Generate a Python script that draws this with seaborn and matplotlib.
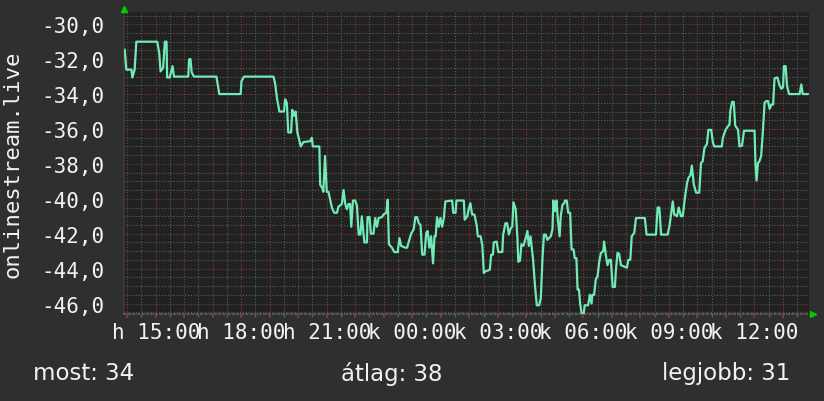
import matplotlib
matplotlib.use("Agg")
import matplotlib.pyplot as plt
import seaborn as sns
from matplotlib.ticker import MultipleLocator, FuncFormatter

# hours after 15:00 on the first day, and the measured value
hours = [
    -1.09, -1.03, -0.85, -0.82, -0.74, -0.68, 0.05, 0.12, 0.17, 0.26,
    0.32, 0.38, 0.40, 0.49, 0.59, 0.64, 1.14, 1.17, 1.22, 1.26,
    1.34, 2.13, 2.17, 2.23, 2.98, 3.01, 3.10, 4.13, 4.19, 4.25,
    4.34,
    4.50, 4.54, 4.60, 4.65, 4.75, 4.79, 4.85, 4.91, 4.97, 5.03,
    5.09, 5.18, 5.42, 5.48, 5.51, 5.74, 5.77, 5.85, 5.88, 5.94,
    6.00, 6.06, 6.12, 6.18, 6.26, 6.36, 6.41, 6.53, 6.59, 6.65,
    6.71, 6.76, 6.82, 6.86, 6.92, 7.00, 7.06, 7.12, 7.18, 7.23,
    7.32, 7.41, 7.43, 7.50, 7.55, 7.64, 7.70, 7.76, 7.82, 7.94,
    7.99, 8.09, 8.14, 8.18, 8.29, 8.37, 8.49, 8.55, 8.61, 8.76,
    8.82, 8.87, 8.96, 9.05, 9.11, 9.17, 9.23, 9.29, 9.35, 9.43,
    9.49, 9.54, 9.60, 9.66, 9.73, 9.78, 9.82, 9.87, 9.93, 9.99,
    10.05, 10.11, 10.16, 10.40, 10.44, 10.52, 10.55, 10.81, 10.84, 10.93,
    10.98, 11.04, 11.10, 11.18, 11.26, 11.30, 11.40, 11.46, 11.51, 11.57,
    11.72, 11.77, 11.83, 11.86, 11.96, 12.02, 12.16, 12.19, 12.27, 12.33,
    12.39, 12.45, 12.51, 12.55, 12.63, 12.69, 12.72, 12.78, 12.83, 12.90,
    12.98, 13.04, 13.09, 13.15,
    13.24, 13.31, 13.37, 13.45, 13.51, 13.57, 13.62, 13.68, 13.74, 13.80,
    13.86, 13.92, 13.95, 14.01, 14.06, 14.11, 14.17, 14.21, 14.27, 14.33,
    14.36, 14.42, 14.47, 14.54, 14.59, 14.66, 14.70, 14.76, 14.80, 14.85,
    14.89, 14.95, 15.01, 15.05, 15.17, 15.23, 15.29, 15.32, 15.38, 15.44,
    15.50, 15.56, 15.62, 15.70, 15.73, 15.79, 15.85, 15.91, 15.97, 16.03,
    16.11, 16.14, 16.20, 16.26, 16.32, 16.53, 16.58, 16.65, 16.70, 16.79,
    16.85, 17.16, 17.22,
    17.55, 17.61, 17.67, 17.73, 17.96, 18.02, 18.08, 18.14, 18.19, 18.29,
    18.35, 18.43, 18.49, 18.55, 18.64, 18.69, 18.76, 18.81, 18.88, 18.96,
    19.07, 19.13, 19.19, 19.25, 19.34, 19.39, 19.49, 19.55, 19.60, 19.86,
    19.90, 19.98, 20.05, 20.13, 20.16, 20.22, 20.28, 20.33, 20.43, 20.48,
    20.57, 20.64, 21.01, 21.04, 21.08, 21.13, 21.18, 21.24, 21.30, 21.36,
    21.42, 21.48, 21.54, 21.60, 21.66, 21.71, 21.81, 21.89, 21.95, 22.01,
    22.04, 22.10, 22.15, 22.22, 22.59, 22.65, 22.70, 22.89,
]

values = [
    -31.45, -32.6, -32.6, -33.05, -32.6, -31.0, -31.0, -31.6, -32.7, -32.5,
    -31.0, -31.0, -33.05, -33.05, -32.4, -33.0, -33.0, -32.0, -32.0, -32.75,
    -33.0, -33.0, -33.4, -34.0, -34.0, -33.25, -33.0, -33.0, -33.4, -34.2,
    -35.0,
    -35.0, -34.3, -34.5, -36.2, -36.2, -34.9, -35.25, -35.0, -36.2, -36.6,
    -37.0, -36.75, -36.7, -36.5, -37.0, -37.0, -39.2, -39.4, -39.6, -37.55,
    -39.6, -39.6, -40.05, -40.5, -40.8, -40.8, -40.45, -40.3, -39.5, -40.3,
    -40.6, -40.3, -40.3, -41.6, -40.1, -40.1, -40.4, -42.05, -42.05, -41.0,
    -42.5, -42.5, -41.05, -41.05, -42.0, -42.0, -41.1, -41.6, -41.1, -41.05,
    -40.9, -40.8, -40.05, -42.6, -42.8, -43.05, -43.05, -42.25, -42.7, -42.8,
    -42.8, -42.5, -42.0, -41.75, -41.05, -41.05, -41.4, -41.5, -43.2, -43.2,
    -41.95, -41.85, -42.8, -42.15, -43.7, -42.15, -42.15, -41.05, -41.6, -41.1,
    -41.6, -41.1, -40.15, -40.1, -40.8, -40.8, -40.1, -40.1, -41.2, -41.0,
    -40.6, -40.25, -40.9, -40.9, -41.5, -42.15, -42.15, -42.7, -44.25, -44.15,
    -44.07, -43.2, -43.2, -42.5, -42.45, -43.05, -43.05, -42.05, -41.4, -41.4,
    -42.05, -41.7, -41.6, -40.2, -40.6, -42.25, -43.6, -43.55, -42.6, -42.7,
    -42.25, -41.85, -42.7, -42.15,
    -43.5, -45.05, -46.1, -46.1, -45.7, -43.4, -42.05, -42.05, -42.35, -42.25,
    -42.15, -41.75, -40.1, -40.7, -40.1, -41.2, -42.15, -41.0, -40.35, -40.25,
    -40.1, -40.1, -40.8, -40.8, -42.9, -42.9, -43.4, -43.4, -45.2, -45.2,
    -46.0, -46.65, -46.65, -46.1, -46.1, -45.5, -46.0, -45.5, -45.5, -44.6,
    -44.45, -43.6, -43.1, -43.0, -42.45, -43.2, -43.8, -43.5, -43.5, -45.05,
    -45.05, -44.2, -43.1, -43.15, -43.8, -43.95, -43.5, -43.5, -42.15, -41.95,
    -41.1, -41.1, -42.05,
    -42.05, -40.5, -40.5, -42.05, -42.05, -41.6, -40.9, -40.15, -40.9, -41.0,
    -40.5, -41.0, -41.0, -40.15, -39.1, -38.8, -38.65, -38.1, -39.2, -39.65,
    -39.65, -37.95, -37.85, -37.1, -36.85, -36.05, -36.05, -36.8, -37.0, -37.0,
    -36.5, -36.1, -35.9, -35.75, -34.95, -34.45, -34.45, -35.8, -36.05, -37.0,
    -36.95, -36.1, -36.1, -37.95, -38.95, -37.95, -37.85, -37.55, -36.2, -34.5,
    -34.4, -34.4, -34.85, -34.6, -34.6, -33.1, -33.05, -33.5, -33.7, -33.6,
    -32.4, -32.4, -33.55, -34.0, -34.0, -33.45, -34.0, -34.0,
]

tick_hours = [0, 3, 6, 9, 12, 15, 18, 21]
tick_labels = ["h 15:00", "h 18:00", "h 21:00", "k 00:00",
               "k 03:00", "k 06:00", "k 09:00", "k 12:00"]

series_name = "onlinestream.live"
stat_names = ["most", "átlag", "legjobb"]
stat_values = [34, 38, 31]

BG = "#2f2f2f"
PLOT_BG = "#212121"
LINE = "#72eab5"
MAJOR = "#803c3c"
MINOR = "#5e5e5e"
TEXT = "#f2f2f2"
MONO = "DejaVu Sans Mono"

sns.set_theme(style="dark")

fig = plt.figure(figsize=(8.24, 4.02), dpi=100, facecolor=BG)
ax = fig.add_axes([0.1499, 0.2164, 0.8319, 0.7512])
ax.set_facecolor(PLOT_BG)

sns.lineplot(x=hours, y=values, ax=ax, color=LINE, linewidth=1.6,
             sort=False, estimator=None, zorder=3)

ax.set_xlim(-1.13, 22.92)
ax.set_ylim(-46.6, -29.3)

# grid: hour / half hour, 2 units / half unit
ax.xaxis.set_major_locator(MultipleLocator(1))
ax.xaxis.set_minor_locator(MultipleLocator(0.5))
ax.yaxis.set_major_locator(MultipleLocator(2))
ax.yaxis.set_minor_locator(MultipleLocator(0.5))

label_map = dict(zip(tick_hours, tick_labels))
ax.xaxis.set_major_formatter(
    FuncFormatter(lambda v, p: label_map.get(int(round(v)), "")))
ax.yaxis.set_major_formatter(
    FuncFormatter(lambda v, p: f"{v:.1f}".replace(".", ",")))

ax.grid(which="major", color=MAJOR, linestyle=(0, (1, 1.6)), linewidth=0.8)
ax.grid(which="minor", color=MINOR, linestyle=(0, (1, 1.6)), linewidth=0.8)

ax.tick_params(axis="x", which="major", colors=MAJOR, length=3,
               labelcolor=TEXT, labelsize=15, pad=3, bottom=True)
ax.tick_params(axis="x", which="minor", colors=MINOR, length=2, bottom=True)
ax.tick_params(axis="y", which="both", length=0, labelcolor=TEXT,
               labelsize=15, pad=14)
for lab in ax.get_xticklabels() + ax.get_yticklabels():
    lab.set_family(MONO)

for side in ["top", "right"]:
    ax.spines[side].set_visible(False)
ax.spines["left"].set_color("#3a3a3a")
ax.spines["bottom"].set_color(MINOR)
ax.spines["bottom"].set_linestyle((0, (1, 1.6)))

ax.set_xlabel("")
ax.set_ylabel(series_name, color=TEXT, fontsize=16, family=MONO)
ax.yaxis.set_label_coords(-0.148, 0.5)

# green axis arrows
ax.plot([0], [1.01], transform=ax.transAxes, marker="^", color="#00cc00",
        markersize=5, clip_on=False, zorder=5)
ax.plot([1.006], [0], transform=ax.transAxes, marker=">", color="#00cc00",
        markersize=5, clip_on=False, zorder=5)

# summary line below the chart
stats = [f"{n}: {v}" for n, v in zip(stat_names, stat_values)]
ypos = 1 - 374 / 402
fig.text(33 / 824, ypos, stats[0], color=TEXT, fontsize=16.5,
         ha="left", va="center")
fig.text(392 / 824, ypos, stats[1], color=TEXT, fontsize=16.5,
         ha="center", va="center")
fig.text(790 / 824, ypos, stats[2], color=TEXT, fontsize=16.5,
         ha="right", va="center")

fig.savefig("out.png", dpi=100, facecolor=BG)
